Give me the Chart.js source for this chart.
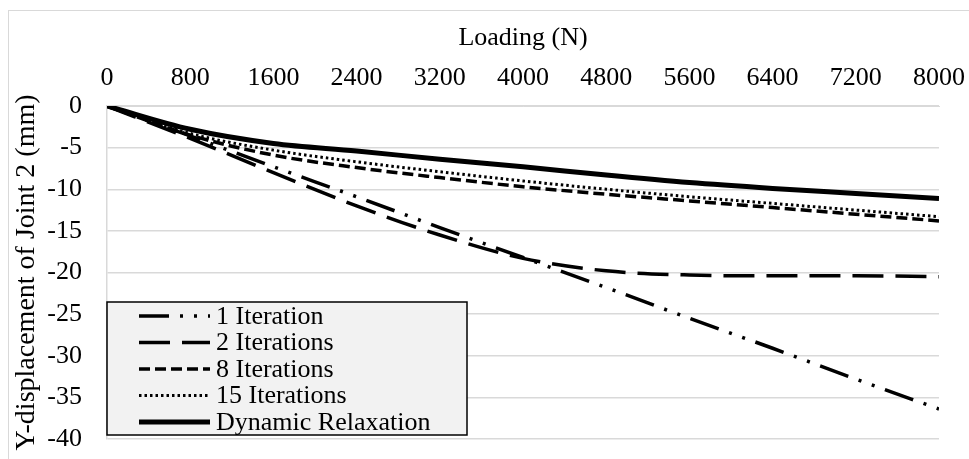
<!DOCTYPE html>
<html>
<head>
<meta charset="utf-8">
<script src="https://cdn.jsdelivr.net/npm/chart.js@4.4.1/dist/chart.umd.min.js"></script>
<style>
    html, body { margin: 0; padding: 0; background: #fff; }
    #frame { position: absolute; left: 8px; top: 10px; width: 960px; height: 470px; border: 1px solid #d9d9d9; }
    #wrap { position: absolute; left: 0; top: 0; width: 969px; height: 459px; }
</style>
</head>
<body>
<div id="frame"></div>
<div id="wrap"><canvas id="chart"></canvas></div>
<script>
// Loading (N)
const loads = [0, 800, 1600, 2400, 3200, 4000, 4800, 5600, 6400, 7200, 8000];
const xTicks = [0, 800, 1600, 2400, 3200, 4000, 4800, 5600, 6400, 7200, 8000];
const yTicks = [0, -5, -10, -15, -20, -25, -30, -35, -40];

// Y-displacement of joint 2 (mm)
const iter1 = [0, -3.6, -7.3, -10.9, -14.6, -18.2, -21.8, -25.5, -29.1, -32.8, -36.4];
const iter2 = [0, -3.9, -8.0, -12.0, -15.5, -18.3, -19.8, -20.3, -20.4, -20.4, -20.5];
const iter8 = [0, -3.5, -5.9, -7.4, -8.6, -9.7, -10.6, -11.4, -12.2, -13.0, -13.8];
const iter15 = [0, -3.3, -5.3, -6.7, -7.9, -9.0, -10.0, -10.9, -11.7, -12.5, -13.3];
const dynRelax = [0, -2.8, -4.5, -5.4, -6.4, -7.3, -8.3, -9.2, -9.9, -10.5, -11.1];

const seriesNames = ['1 Iteration', '2 Iterations', '8 Iterations', '15 Iterations', 'Dynamic Relaxation'];

const serif = '"Liberation Serif", "Times New Roman", serif';

const toPoints = (vals) => loads.map((x, i) => ({ x: x, y: vals[i] }));

const makeSet = (label, vals, dash, width) => ({
    label: label,
    data: toPoints(vals),
    borderColor: '#000',
    borderWidth: width,
    borderDash: dash,
    pointRadius: 0,
    fill: false,
    cubicInterpolationMode: 'monotone'
});

// Legend box drawn inside the plot, like the original
const boxLegend = {
    id: 'boxLegend',
    afterDatasetsDraw(chart) {
        const ctx = chart.ctx;
        const left = 107, top = 302, w = 360, h = 133;
        ctx.save();
        ctx.fillStyle = '#f2f2f2';
        ctx.fillRect(left, top, w, h);
        ctx.strokeStyle = '#000';
        ctx.lineWidth = 1.5;
        ctx.strokeRect(left, top, w, h);
        ctx.font = '26px ' + serif;
        ctx.textBaseline = 'middle';
        ctx.fillStyle = '#000';
        chart.data.datasets.forEach((ds, i) => {
            const y = top + 14 + i * 26.5;
            ctx.beginPath();
            ctx.setLineDash(ds.borderDash || []);
            ctx.lineWidth = ds.borderWidth;
            ctx.moveTo(139, y);
            ctx.lineTo(210, y);
            ctx.stroke();
            ctx.setLineDash([]);
            ctx.fillText(ds.label, 216, y + 1);
        });
        ctx.restore();
    }
};

new Chart(document.getElementById('chart').getContext('2d'), {
    type: 'line',
    data: {
        datasets: [
            makeSet(seriesNames[0], iter1, [30, 11, 3, 11, 3, 11], 3.5),
            makeSet(seriesNames[1], iter2, [31, 12], 3.5),
            makeSet(seriesNames[2], iter8, [11, 5], 3.5),
            makeSet(seriesNames[3], iter15, [2.5, 3], 3),
            makeSet(seriesNames[4], dynRelax, [], 5)
        ]
    },
    plugins: [boxLegend],
    options: {
        responsive: true,
        maintainAspectRatio: false,
        animation: false,
        layout: { padding: { left: 0, right: 30, top: 0, bottom: 20 } },
        plugins: {
            legend: { display: false },
            tooltip: { enabled: false }
        },
        scales: {
            x: {
                type: 'linear',
                position: 'top',
                min: 0,
                max: 8000,
                afterBuildTicks: (scale) => { scale.ticks = xTicks.map(v => ({ value: v })); },
                afterFit: (scale) => {
                    scale.height = 106;
                    scale.paddingLeft = 0;
                    scale.paddingRight = 0;
                },
                grid: { display: false, drawTicks: false },
                border: { display: true, color: '#d9d9d9' },
                ticks: {
                    color: '#000',
                    padding: 12,
                    maxRotation: 0,
                    font: { family: serif, size: 26 },
                    callback: (v) => String(v)
                },
                title: {
                    display: true,
                    text: 'Loading (N)',
                    color: '#000',
                    padding: { top: 23, bottom: 4 },
                    font: { family: serif, size: 26 }
                }
            },
            y: {
                min: -40,
                max: 0,
                afterBuildTicks: (scale) => { scale.ticks = yTicks.map(v => ({ value: v })); },
                afterFit: (scale) => {
                    scale.width = 107;
                    scale.paddingTop = 0;
                    scale.paddingBottom = 0;
                },
                grid: { color: '#d9d9d9', lineWidth: 1.5, drawTicks: false },
                border: { display: true, color: '#d9d9d9', width: 1.5 },
                ticks: {
                    color: '#000',
                    padding: 25,
                    font: { family: serif, size: 26 },
                    callback: (v) => String(v)
                },
                title: {
                    display: true,
                    text: 'Y-displacement of Joint 2 (mm)',
                    color: '#000',
                    padding: { top: 10, bottom: 0 },
                    font: { family: serif, size: 28 }
                }
            }
        }
    }
});
</script>
</body>
</html>
